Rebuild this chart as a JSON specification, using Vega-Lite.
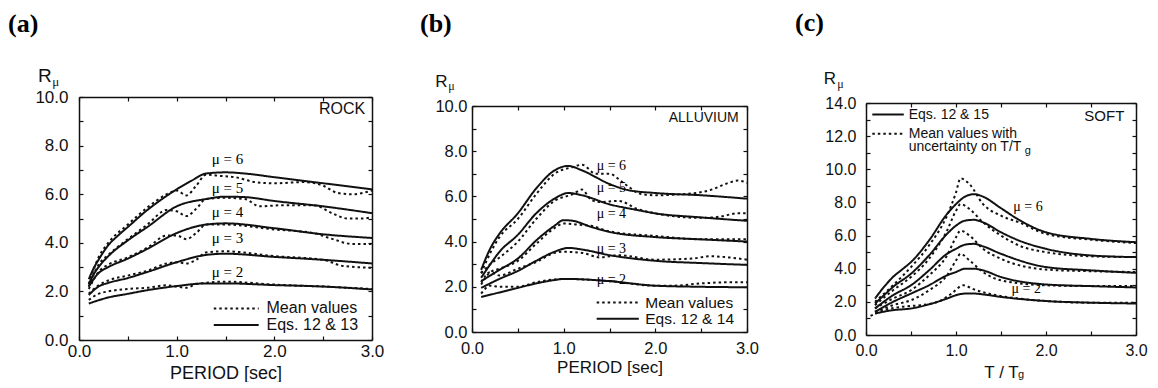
{
"$schema": "https://vega.github.io/schema/vega-lite/v6.json",
"padding": {"left": 8, "top": 10, "right": 0, "bottom": 0},
"spacing": 36,
"config": {
  "font": "Liberation Sans",
  "view": {"stroke": null},
  "title": {"font": "Liberation Serif", "fontSize": 26, "fontWeight": "bold", "anchor": "start", "frame": "group", "color": "#000"},
  "axis": {"grid": false, "labelFont": "Liberation Sans", "titleFont": "Liberation Sans", "titleFontWeight": "normal", "labelColor": "#111", "titleColor": "#111", "tickColor": "#111", "domainColor": "#111", "domainWidth": 1.5, "tickWidth": 1.2, "labelFlush": false, "labelOverlap": false}
},
"datasets": {
"a": [
{"T":0.1,"R":2.5,"mu":6,"type":"eq"},{"T":0.15,"R":2.95,"mu":6,"type":"eq"},{"T":0.2,"R":3.3,"mu":6,"type":"eq"},{"T":0.3,"R":3.9,"mu":6,"type":"eq"},{"T":0.4,"R":4.3,"mu":6,"type":"eq"},{"T":0.5,"R":4.65,"mu":6,"type":"eq"},{"T":0.7,"R":5.35,"mu":6,"type":"eq"},{"T":0.85,"R":5.8,"mu":6,"type":"eq"},{"T":1.0,"R":6.2,"mu":6,"type":"eq"},{"T":1.15,"R":6.55,"mu":6,"type":"eq"},{"T":1.3,"R":6.85,"mu":6,"type":"eq"},{"T":1.5,"R":6.9,"mu":6,"type":"eq"},{"T":1.7,"R":6.85,"mu":6,"type":"eq"},{"T":2.0,"R":6.7,"mu":6,"type":"eq"},{"T":2.5,"R":6.45,"mu":6,"type":"eq"},{"T":3.0,"R":6.2,"mu":6,"type":"eq"},
{"T":0.1,"R":2.3,"mu":5,"type":"eq"},{"T":0.15,"R":2.7,"mu":5,"type":"eq"},{"T":0.2,"R":3.0,"mu":5,"type":"eq"},{"T":0.3,"R":3.45,"mu":5,"type":"eq"},{"T":0.5,"R":4.1,"mu":5,"type":"eq"},{"T":0.7,"R":4.65,"mu":5,"type":"eq"},{"T":1.0,"R":5.5,"mu":5,"type":"eq"},{"T":1.3,"R":5.8,"mu":5,"type":"eq"},{"T":1.5,"R":5.9,"mu":5,"type":"eq"},{"T":1.7,"R":5.88,"mu":5,"type":"eq"},{"T":2.0,"R":5.72,"mu":5,"type":"eq"},{"T":2.5,"R":5.5,"mu":5,"type":"eq"},{"T":3.0,"R":5.22,"mu":5,"type":"eq"},
{"T":0.1,"R":2.2,"mu":4,"type":"eq"},{"T":0.2,"R":2.75,"mu":4,"type":"eq"},{"T":0.3,"R":3.0,"mu":4,"type":"eq"},{"T":0.5,"R":3.35,"mu":4,"type":"eq"},{"T":0.7,"R":3.75,"mu":4,"type":"eq"},{"T":1.0,"R":4.4,"mu":4,"type":"eq"},{"T":1.3,"R":4.75,"mu":4,"type":"eq"},{"T":1.5,"R":4.8,"mu":4,"type":"eq"},{"T":2.0,"R":4.6,"mu":4,"type":"eq"},{"T":2.5,"R":4.35,"mu":4,"type":"eq"},{"T":3.0,"R":4.2,"mu":4,"type":"eq"},
{"T":0.1,"R":1.85,"mu":3,"type":"eq"},{"T":0.2,"R":2.2,"mu":3,"type":"eq"},{"T":0.3,"R":2.35,"mu":3,"type":"eq"},{"T":0.5,"R":2.55,"mu":3,"type":"eq"},{"T":0.7,"R":2.8,"mu":3,"type":"eq"},{"T":1.0,"R":3.2,"mu":3,"type":"eq"},{"T":1.3,"R":3.5,"mu":3,"type":"eq"},{"T":1.5,"R":3.55,"mu":3,"type":"eq"},{"T":2.0,"R":3.42,"mu":3,"type":"eq"},{"T":2.5,"R":3.3,"mu":3,"type":"eq"},{"T":3.0,"R":3.15,"mu":3,"type":"eq"},
{"T":0.1,"R":1.5,"mu":2,"type":"eq"},{"T":0.3,"R":1.75,"mu":2,"type":"eq"},{"T":0.5,"R":1.9,"mu":2,"type":"eq"},{"T":0.7,"R":2.05,"mu":2,"type":"eq"},{"T":1.0,"R":2.22,"mu":2,"type":"eq"},{"T":1.3,"R":2.33,"mu":2,"type":"eq"},{"T":1.5,"R":2.33,"mu":2,"type":"eq"},{"T":2.0,"R":2.26,"mu":2,"type":"eq"},{"T":2.5,"R":2.2,"mu":2,"type":"eq"},{"T":3.0,"R":2.08,"mu":2,"type":"eq"},
{"T":0.1,"R":2.3,"mu":6,"type":"mean"},{"T":0.2,"R":3.4,"mu":6,"type":"mean"},{"T":0.3,"R":4.0,"mu":6,"type":"mean"},{"T":0.5,"R":4.75,"mu":6,"type":"mean"},{"T":0.7,"R":5.45,"mu":6,"type":"mean"},{"T":0.9,"R":6.0,"mu":6,"type":"mean"},{"T":1.0,"R":6.15,"mu":6,"type":"mean"},{"T":1.1,"R":5.95,"mu":6,"type":"mean"},{"T":1.2,"R":6.35,"mu":6,"type":"mean"},{"T":1.3,"R":6.8,"mu":6,"type":"mean"},{"T":1.45,"R":6.75,"mu":6,"type":"mean"},{"T":1.6,"R":6.7,"mu":6,"type":"mean"},{"T":1.8,"R":6.5,"mu":6,"type":"mean"},{"T":2.0,"R":6.45,"mu":6,"type":"mean"},{"T":2.3,"R":6.5,"mu":6,"type":"mean"},{"T":2.5,"R":6.35,"mu":6,"type":"mean"},{"T":2.65,"R":6.05,"mu":6,"type":"mean"},{"T":2.8,"R":6.0,"mu":6,"type":"mean"},{"T":3.0,"R":6.15,"mu":6,"type":"mean"},
{"T":0.1,"R":2.2,"mu":5,"type":"mean"},{"T":0.2,"R":3.1,"mu":5,"type":"mean"},{"T":0.3,"R":3.5,"mu":5,"type":"mean"},{"T":0.5,"R":4.15,"mu":5,"type":"mean"},{"T":0.7,"R":4.75,"mu":5,"type":"mean"},{"T":0.9,"R":5.35,"mu":5,"type":"mean"},{"T":1.0,"R":5.3,"mu":5,"type":"mean"},{"T":1.1,"R":5.1,"mu":5,"type":"mean"},{"T":1.2,"R":5.4,"mu":5,"type":"mean"},{"T":1.3,"R":5.8,"mu":5,"type":"mean"},{"T":1.5,"R":5.85,"mu":5,"type":"mean"},{"T":1.7,"R":5.8,"mu":5,"type":"mean"},{"T":1.85,"R":5.5,"mu":5,"type":"mean"},{"T":2.1,"R":5.55,"mu":5,"type":"mean"},{"T":2.4,"R":5.55,"mu":5,"type":"mean"},{"T":2.6,"R":5.2,"mu":5,"type":"mean"},{"T":2.75,"R":5.0,"mu":5,"type":"mean"},{"T":2.9,"R":5.0,"mu":5,"type":"mean"},{"T":3.0,"R":5.05,"mu":5,"type":"mean"},
{"T":0.1,"R":2.1,"mu":4,"type":"mean"},{"T":0.2,"R":2.8,"mu":4,"type":"mean"},{"T":0.3,"R":3.1,"mu":4,"type":"mean"},{"T":0.5,"R":3.4,"mu":4,"type":"mean"},{"T":0.7,"R":3.8,"mu":4,"type":"mean"},{"T":0.9,"R":4.3,"mu":4,"type":"mean"},{"T":1.0,"R":4.3,"mu":4,"type":"mean"},{"T":1.1,"R":4.15,"mu":4,"type":"mean"},{"T":1.2,"R":4.4,"mu":4,"type":"mean"},{"T":1.3,"R":4.75,"mu":4,"type":"mean"},{"T":1.5,"R":4.75,"mu":4,"type":"mean"},{"T":2.0,"R":4.55,"mu":4,"type":"mean"},{"T":2.4,"R":4.4,"mu":4,"type":"mean"},{"T":2.6,"R":4.15,"mu":4,"type":"mean"},{"T":2.8,"R":3.95,"mu":4,"type":"mean"},{"T":3.0,"R":3.95,"mu":4,"type":"mean"},
{"T":0.1,"R":1.9,"mu":3,"type":"mean"},{"T":0.2,"R":2.25,"mu":3,"type":"mean"},{"T":0.3,"R":2.45,"mu":3,"type":"mean"},{"T":0.5,"R":2.65,"mu":3,"type":"mean"},{"T":0.7,"R":2.85,"mu":3,"type":"mean"},{"T":0.9,"R":3.15,"mu":3,"type":"mean"},{"T":1.0,"R":3.2,"mu":3,"type":"mean"},{"T":1.1,"R":3.15,"mu":3,"type":"mean"},{"T":1.2,"R":3.3,"mu":3,"type":"mean"},{"T":1.3,"R":3.6,"mu":3,"type":"mean"},{"T":1.5,"R":3.65,"mu":3,"type":"mean"},{"T":2.0,"R":3.45,"mu":3,"type":"mean"},{"T":2.5,"R":3.3,"mu":3,"type":"mean"},{"T":2.7,"R":3.05,"mu":3,"type":"mean"},{"T":3.0,"R":2.97,"mu":3,"type":"mean"},
{"T":0.1,"R":1.65,"mu":2,"type":"mean"},{"T":0.2,"R":1.9,"mu":2,"type":"mean"},{"T":0.3,"R":2.0,"mu":2,"type":"mean"},{"T":0.5,"R":2.1,"mu":2,"type":"mean"},{"T":0.7,"R":2.15,"mu":2,"type":"mean"},{"T":0.9,"R":2.25,"mu":2,"type":"mean"},{"T":1.0,"R":2.2,"mu":2,"type":"mean"},{"T":1.1,"R":2.15,"mu":2,"type":"mean"},{"T":1.2,"R":2.3,"mu":2,"type":"mean"},{"T":1.5,"R":2.4,"mu":2,"type":"mean"},{"T":2.0,"R":2.28,"mu":2,"type":"mean"},{"T":2.5,"R":2.2,"mu":2,"type":"mean"},{"T":3.0,"R":2.1,"mu":2,"type":"mean"}
],
"b": [
{"T":0.1,"R":2.75,"mu":6,"type":"eq"},{"T":0.2,"R":3.7,"mu":6,"type":"eq"},{"T":0.3,"R":4.35,"mu":6,"type":"eq"},{"T":0.5,"R":5.25,"mu":6,"type":"eq"},{"T":0.7,"R":6.35,"mu":6,"type":"eq"},{"T":0.9,"R":7.15,"mu":6,"type":"eq"},{"T":1.05,"R":7.35,"mu":6,"type":"eq"},{"T":1.2,"R":7.15,"mu":6,"type":"eq"},{"T":1.5,"R":6.55,"mu":6,"type":"eq"},{"T":1.7,"R":6.28,"mu":6,"type":"eq"},{"T":2.0,"R":6.15,"mu":6,"type":"eq"},{"T":2.5,"R":6.05,"mu":6,"type":"eq"},{"T":3.0,"R":5.9,"mu":6,"type":"eq"},
{"T":0.1,"R":2.4,"mu":5,"type":"eq"},{"T":0.2,"R":3.0,"mu":5,"type":"eq"},{"T":0.3,"R":3.55,"mu":5,"type":"eq"},{"T":0.5,"R":4.3,"mu":5,"type":"eq"},{"T":0.7,"R":5.25,"mu":5,"type":"eq"},{"T":0.9,"R":5.9,"mu":5,"type":"eq"},{"T":1.05,"R":6.15,"mu":5,"type":"eq"},{"T":1.2,"R":6.05,"mu":5,"type":"eq"},{"T":1.5,"R":5.65,"mu":5,"type":"eq"},{"T":1.8,"R":5.4,"mu":5,"type":"eq"},{"T":2.0,"R":5.25,"mu":5,"type":"eq"},{"T":2.5,"R":5.07,"mu":5,"type":"eq"},{"T":3.0,"R":4.92,"mu":5,"type":"eq"},
{"T":0.1,"R":2.25,"mu":4,"type":"eq"},{"T":0.2,"R":2.5,"mu":4,"type":"eq"},{"T":0.3,"R":2.75,"mu":4,"type":"eq"},{"T":0.5,"R":3.25,"mu":4,"type":"eq"},{"T":0.7,"R":4.05,"mu":4,"type":"eq"},{"T":0.9,"R":4.7,"mu":4,"type":"eq"},{"T":1.0,"R":4.95,"mu":4,"type":"eq"},{"T":1.1,"R":4.92,"mu":4,"type":"eq"},{"T":1.3,"R":4.65,"mu":4,"type":"eq"},{"T":1.5,"R":4.43,"mu":4,"type":"eq"},{"T":2.0,"R":4.2,"mu":4,"type":"eq"},{"T":2.5,"R":4.1,"mu":4,"type":"eq"},{"T":3.0,"R":4.0,"mu":4,"type":"eq"},
{"T":0.1,"R":1.95,"mu":3,"type":"eq"},{"T":0.3,"R":2.35,"mu":3,"type":"eq"},{"T":0.5,"R":2.7,"mu":3,"type":"eq"},{"T":0.7,"R":3.15,"mu":3,"type":"eq"},{"T":0.9,"R":3.55,"mu":3,"type":"eq"},{"T":1.05,"R":3.72,"mu":3,"type":"eq"},{"T":1.2,"R":3.65,"mu":3,"type":"eq"},{"T":1.5,"R":3.4,"mu":3,"type":"eq"},{"T":2.0,"R":3.15,"mu":3,"type":"eq"},{"T":2.5,"R":3.05,"mu":3,"type":"eq"},{"T":3.0,"R":2.97,"mu":3,"type":"eq"},
{"T":0.1,"R":1.55,"mu":2,"type":"eq"},{"T":0.3,"R":1.75,"mu":2,"type":"eq"},{"T":0.5,"R":1.95,"mu":2,"type":"eq"},{"T":0.7,"R":2.15,"mu":2,"type":"eq"},{"T":0.9,"R":2.3,"mu":2,"type":"eq"},{"T":1.0,"R":2.35,"mu":2,"type":"eq"},{"T":1.2,"R":2.33,"mu":2,"type":"eq"},{"T":1.5,"R":2.25,"mu":2,"type":"eq"},{"T":2.0,"R":2.05,"mu":2,"type":"eq"},{"T":2.5,"R":2.0,"mu":2,"type":"eq"},{"T":3.0,"R":1.98,"mu":2,"type":"eq"},
{"T":0.1,"R":2.6,"mu":6,"type":"mean"},{"T":0.2,"R":3.5,"mu":6,"type":"mean"},{"T":0.3,"R":4.2,"mu":6,"type":"mean"},{"T":0.5,"R":5.0,"mu":6,"type":"mean"},{"T":0.7,"R":6.1,"mu":6,"type":"mean"},{"T":0.9,"R":7.0,"mu":6,"type":"mean"},{"T":1.1,"R":7.3,"mu":6,"type":"mean"},{"T":1.2,"R":7.4,"mu":6,"type":"mean"},{"T":1.35,"R":7.0,"mu":6,"type":"mean"},{"T":1.5,"R":7.0,"mu":6,"type":"mean"},{"T":1.65,"R":6.6,"mu":6,"type":"mean"},{"T":1.85,"R":6.1,"mu":6,"type":"mean"},{"T":2.0,"R":6.05,"mu":6,"type":"mean"},{"T":2.3,"R":6.1,"mu":6,"type":"mean"},{"T":2.6,"R":6.28,"mu":6,"type":"mean"},{"T":2.8,"R":6.6,"mu":6,"type":"mean"},{"T":2.9,"R":6.7,"mu":6,"type":"mean"},{"T":3.0,"R":6.6,"mu":6,"type":"mean"},
{"T":0.1,"R":2.6,"mu":5,"type":"mean"},{"T":0.2,"R":3.0,"mu":5,"type":"mean"},{"T":0.3,"R":3.3,"mu":5,"type":"mean"},{"T":0.5,"R":4.0,"mu":5,"type":"mean"},{"T":0.7,"R":5.0,"mu":5,"type":"mean"},{"T":0.9,"R":5.8,"mu":5,"type":"mean"},{"T":1.1,"R":6.1,"mu":5,"type":"mean"},{"T":1.2,"R":6.3,"mu":5,"type":"mean"},{"T":1.3,"R":5.85,"mu":5,"type":"mean"},{"T":1.4,"R":5.75,"mu":5,"type":"mean"},{"T":1.6,"R":5.8,"mu":5,"type":"mean"},{"T":1.8,"R":5.45,"mu":5,"type":"mean"},{"T":2.0,"R":5.25,"mu":5,"type":"mean"},{"T":2.5,"R":5.05,"mu":5,"type":"mean"},{"T":2.7,"R":5.1,"mu":5,"type":"mean"},{"T":2.9,"R":5.25,"mu":5,"type":"mean"},{"T":3.0,"R":5.25,"mu":5,"type":"mean"},
{"T":0.1,"R":2.1,"mu":4,"type":"mean"},{"T":0.2,"R":2.65,"mu":4,"type":"mean"},{"T":0.3,"R":2.8,"mu":4,"type":"mean"},{"T":0.5,"R":3.15,"mu":4,"type":"mean"},{"T":0.7,"R":3.9,"mu":4,"type":"mean"},{"T":0.9,"R":4.6,"mu":4,"type":"mean"},{"T":1.0,"R":4.8,"mu":4,"type":"mean"},{"T":1.15,"R":4.75,"mu":4,"type":"mean"},{"T":1.3,"R":4.7,"mu":4,"type":"mean"},{"T":1.5,"R":4.45,"mu":4,"type":"mean"},{"T":2.0,"R":4.25,"mu":4,"type":"mean"},{"T":2.5,"R":4.1,"mu":4,"type":"mean"},{"T":3.0,"R":4.1,"mu":4,"type":"mean"},
{"T":0.1,"R":2.2,"mu":3,"type":"mean"},{"T":0.2,"R":2.65,"mu":3,"type":"mean"},{"T":0.3,"R":2.5,"mu":3,"type":"mean"},{"T":0.5,"R":2.8,"mu":3,"type":"mean"},{"T":0.7,"R":3.1,"mu":3,"type":"mean"},{"T":0.9,"R":3.5,"mu":3,"type":"mean"},{"T":1.0,"R":3.55,"mu":3,"type":"mean"},{"T":1.2,"R":3.5,"mu":3,"type":"mean"},{"T":1.4,"R":3.3,"mu":3,"type":"mean"},{"T":1.6,"R":3.4,"mu":3,"type":"mean"},{"T":2.0,"R":3.2,"mu":3,"type":"mean"},{"T":2.4,"R":3.25,"mu":3,"type":"mean"},{"T":2.6,"R":3.35,"mu":3,"type":"mean"},{"T":2.8,"R":3.3,"mu":3,"type":"mean"},{"T":3.0,"R":3.2,"mu":3,"type":"mean"},
{"T":0.1,"R":1.7,"mu":2,"type":"mean"},{"T":0.2,"R":2.05,"mu":2,"type":"mean"},{"T":0.3,"R":2.0,"mu":2,"type":"mean"},{"T":0.5,"R":2.0,"mu":2,"type":"mean"},{"T":0.7,"R":2.2,"mu":2,"type":"mean"},{"T":1.0,"R":2.35,"mu":2,"type":"mean"},{"T":1.5,"R":2.25,"mu":2,"type":"mean"},{"T":2.0,"R":2.05,"mu":2,"type":"mean"},{"T":2.2,"R":2.05,"mu":2,"type":"mean"},{"T":2.5,"R":2.15,"mu":2,"type":"mean"},{"T":2.8,"R":2.2,"mu":2,"type":"mean"},{"T":3.0,"R":2.2,"mu":2,"type":"mean"}
],
"c": [
{"T":0.1,"R":2.2,"mu":6,"type":"eq"},{"T":0.2,"R":2.9,"mu":6,"type":"eq"},{"T":0.3,"R":3.5,"mu":6,"type":"eq"},{"T":0.4,"R":3.95,"mu":6,"type":"eq"},{"T":0.5,"R":4.4,"mu":6,"type":"eq"},{"T":0.7,"R":5.7,"mu":6,"type":"eq"},{"T":0.9,"R":7.3,"mu":6,"type":"eq"},{"T":1.0,"R":7.9,"mu":6,"type":"eq"},{"T":1.1,"R":8.35,"mu":6,"type":"eq"},{"T":1.2,"R":8.5,"mu":6,"type":"eq"},{"T":1.3,"R":8.35,"mu":6,"type":"eq"},{"T":1.5,"R":7.65,"mu":6,"type":"eq"},{"T":1.7,"R":6.95,"mu":6,"type":"eq"},{"T":2.0,"R":6.2,"mu":6,"type":"eq"},{"T":2.5,"R":5.8,"mu":6,"type":"eq"},{"T":3.0,"R":5.6,"mu":6,"type":"eq"},
{"T":0.1,"R":1.9,"mu":5,"type":"eq"},{"T":0.2,"R":2.4,"mu":5,"type":"eq"},{"T":0.3,"R":2.9,"mu":5,"type":"eq"},{"T":0.5,"R":3.7,"mu":5,"type":"eq"},{"T":0.7,"R":4.8,"mu":5,"type":"eq"},{"T":0.9,"R":6.1,"mu":5,"type":"eq"},{"T":1.0,"R":6.6,"mu":5,"type":"eq"},{"T":1.1,"R":6.9,"mu":5,"type":"eq"},{"T":1.2,"R":6.95,"mu":5,"type":"eq"},{"T":1.3,"R":6.8,"mu":5,"type":"eq"},{"T":1.5,"R":6.2,"mu":5,"type":"eq"},{"T":1.7,"R":5.7,"mu":5,"type":"eq"},{"T":2.0,"R":5.2,"mu":5,"type":"eq"},{"T":2.5,"R":4.8,"mu":5,"type":"eq"},{"T":3.0,"R":4.7,"mu":5,"type":"eq"},
{"T":0.1,"R":1.6,"mu":4,"type":"eq"},{"T":0.3,"R":2.4,"mu":4,"type":"eq"},{"T":0.5,"R":3.0,"mu":4,"type":"eq"},{"T":0.7,"R":3.9,"mu":4,"type":"eq"},{"T":0.9,"R":4.9,"mu":4,"type":"eq"},{"T":1.0,"R":5.2,"mu":4,"type":"eq"},{"T":1.1,"R":5.45,"mu":4,"type":"eq"},{"T":1.2,"R":5.5,"mu":4,"type":"eq"},{"T":1.3,"R":5.35,"mu":4,"type":"eq"},{"T":1.5,"R":4.9,"mu":4,"type":"eq"},{"T":2.0,"R":4.1,"mu":4,"type":"eq"},{"T":2.5,"R":3.9,"mu":4,"type":"eq"},{"T":3.0,"R":3.75,"mu":4,"type":"eq"},
{"T":0.1,"R":1.4,"mu":3,"type":"eq"},{"T":0.3,"R":2.0,"mu":3,"type":"eq"},{"T":0.5,"R":2.5,"mu":3,"type":"eq"},{"T":0.7,"R":3.0,"mu":3,"type":"eq"},{"T":0.9,"R":3.6,"mu":3,"type":"eq"},{"T":1.0,"R":3.8,"mu":3,"type":"eq"},{"T":1.1,"R":4.0,"mu":3,"type":"eq"},{"T":1.2,"R":4.0,"mu":3,"type":"eq"},{"T":1.3,"R":3.9,"mu":3,"type":"eq"},{"T":1.5,"R":3.5,"mu":3,"type":"eq"},{"T":2.0,"R":3.05,"mu":3,"type":"eq"},{"T":2.5,"R":2.95,"mu":3,"type":"eq"},{"T":3.0,"R":2.87,"mu":3,"type":"eq"},
{"T":0.1,"R":1.3,"mu":2,"type":"eq"},{"T":0.3,"R":1.5,"mu":2,"type":"eq"},{"T":0.5,"R":1.6,"mu":2,"type":"eq"},{"T":0.7,"R":1.85,"mu":2,"type":"eq"},{"T":0.9,"R":2.2,"mu":2,"type":"eq"},{"T":1.0,"R":2.4,"mu":2,"type":"eq"},{"T":1.1,"R":2.5,"mu":2,"type":"eq"},{"T":1.2,"R":2.5,"mu":2,"type":"eq"},{"T":1.3,"R":2.45,"mu":2,"type":"eq"},{"T":1.5,"R":2.3,"mu":2,"type":"eq"},{"T":2.0,"R":2.05,"mu":2,"type":"eq"},{"T":2.5,"R":1.95,"mu":2,"type":"eq"},{"T":3.0,"R":1.9,"mu":2,"type":"eq"},
{"T":0.1,"R":2.0,"mu":6,"type":"mean"},{"T":0.3,"R":3.0,"mu":6,"type":"mean"},{"T":0.5,"R":4.1,"mu":6,"type":"mean"},{"T":0.7,"R":5.4,"mu":6,"type":"mean"},{"T":0.9,"R":7.2,"mu":6,"type":"mean"},{"T":1.0,"R":8.6,"mu":6,"type":"mean"},{"T":1.05,"R":9.45,"mu":6,"type":"mean"},{"T":1.15,"R":9.1,"mu":6,"type":"mean"},{"T":1.3,"R":7.9,"mu":6,"type":"mean"},{"T":1.5,"R":7.2,"mu":6,"type":"mean"},{"T":1.7,"R":6.8,"mu":6,"type":"mean"},{"T":2.0,"R":6.1,"mu":6,"type":"mean"},{"T":2.5,"R":5.75,"mu":6,"type":"mean"},{"T":3.0,"R":5.55,"mu":6,"type":"mean"},
{"T":0.1,"R":1.8,"mu":5,"type":"mean"},{"T":0.3,"R":2.7,"mu":5,"type":"mean"},{"T":0.5,"R":3.5,"mu":5,"type":"mean"},{"T":0.7,"R":4.6,"mu":5,"type":"mean"},{"T":0.9,"R":6.3,"mu":5,"type":"mean"},{"T":1.0,"R":7.5,"mu":5,"type":"mean"},{"T":1.05,"R":7.9,"mu":5,"type":"mean"},{"T":1.15,"R":7.6,"mu":5,"type":"mean"},{"T":1.3,"R":6.8,"mu":5,"type":"mean"},{"T":1.5,"R":6.0,"mu":5,"type":"mean"},{"T":1.7,"R":5.4,"mu":5,"type":"mean"},{"T":2.0,"R":5.0,"mu":5,"type":"mean"},{"T":2.5,"R":4.75,"mu":5,"type":"mean"},{"T":3.0,"R":4.7,"mu":5,"type":"mean"},
{"T":0.1,"R":1.6,"mu":4,"type":"mean"},{"T":0.3,"R":2.2,"mu":4,"type":"mean"},{"T":0.5,"R":2.7,"mu":4,"type":"mean"},{"T":0.7,"R":3.6,"mu":4,"type":"mean"},{"T":0.9,"R":4.8,"mu":4,"type":"mean"},{"T":1.0,"R":5.9,"mu":4,"type":"mean"},{"T":1.05,"R":6.3,"mu":4,"type":"mean"},{"T":1.15,"R":6.0,"mu":4,"type":"mean"},{"T":1.3,"R":5.2,"mu":4,"type":"mean"},{"T":1.5,"R":4.6,"mu":4,"type":"mean"},{"T":2.0,"R":3.95,"mu":4,"type":"mean"},{"T":2.5,"R":3.85,"mu":4,"type":"mean"},{"T":3.0,"R":3.8,"mu":4,"type":"mean"},
{"T":0.1,"R":1.4,"mu":3,"type":"mean"},{"T":0.3,"R":1.8,"mu":3,"type":"mean"},{"T":0.5,"R":2.1,"mu":3,"type":"mean"},{"T":0.7,"R":2.7,"mu":3,"type":"mean"},{"T":0.9,"R":3.6,"mu":3,"type":"mean"},{"T":1.0,"R":4.5,"mu":3,"type":"mean"},{"T":1.05,"R":4.9,"mu":3,"type":"mean"},{"T":1.15,"R":4.5,"mu":3,"type":"mean"},{"T":1.3,"R":3.8,"mu":3,"type":"mean"},{"T":1.5,"R":3.3,"mu":3,"type":"mean"},{"T":2.0,"R":3.0,"mu":3,"type":"mean"},{"T":2.5,"R":2.95,"mu":3,"type":"mean"},{"T":3.0,"R":2.95,"mu":3,"type":"mean"},
{"T":0.05,"R":1.15,"mu":2,"type":"mean"},{"T":0.2,"R":1.5,"mu":2,"type":"mean"},{"T":0.4,"R":1.7,"mu":2,"type":"mean"},{"T":0.6,"R":1.8,"mu":2,"type":"mean"},{"T":0.8,"R":2.0,"mu":2,"type":"mean"},{"T":0.95,"R":2.5,"mu":2,"type":"mean"},{"T":1.08,"R":3.0,"mu":2,"type":"mean"},{"T":1.2,"R":2.75,"mu":2,"type":"mean"},{"T":1.4,"R":2.45,"mu":2,"type":"mean"},{"T":1.7,"R":2.2,"mu":2,"type":"mean"},{"T":2.0,"R":2.05,"mu":2,"type":"mean"},{"T":2.5,"R":1.95,"mu":2,"type":"mean"},{"T":3.0,"R":1.95,"mu":2,"type":"mean"}
]
},
"hconcat": [
{
  "width": 293, "height": 243,
  "title": {"text": "(a)", "dx": -71, "offset": 29.5},
  "resolve": {"axis": {"x": "independent", "y": "independent"}},
  "layer": [
    {"data": {"name": "a"},
     "mark": {"type": "line", "interpolate": "monotone", "strokeWidth": 2, "color": "#111"},
     "encoding": {
       "x": {"field": "T", "type": "quantitative", "scale": {"domain": [0, 3], "nice": false, "zero": false},
             "axis": {"values": [0, 0.5, 1, 1.5, 2, 2.5, 3], "labelExpr": "datum.value % 1 == 0 ? format(datum.value, '.1f') : ''", "tickSize": -4, "labelPadding": 7, "labelFontSize": 17, "title": "PERIOD [sec]", "titleFontSize": 18, "titlePadding": 5}},
       "y": {"field": "R", "type": "quantitative", "scale": {"domain": [0, 10], "nice": false, "range": [243, 0]},
             "axis": {"values": [0,1,2,3,4,5,6,7,8,9,10], "labelExpr": "datum.value % 2 == 0 ? format(datum.value, '.1f') : ''", "tickSize": -4, "labelPadding": 15, "labelFontSize": 17, "title": null}},
       "strokeDash": {"field": "type", "type": "nominal", "scale": {"domain": ["mean", "eq"], "range": [[2.5, 3], [1, 0]]}, "legend": null},
       "detail": {"field": "mu"}
     }},
    {"data": {"values": [{"T1": 1.38, "T2": 1.84, "R": 1.3, "type": "mean"}, {"T1": 1.38, "T2": 1.84, "R": 0.62, "type": "eq"}]},
     "mark": {"type": "rule", "strokeWidth": 2, "color": "#111"},
     "encoding": {
       "x": {"field": "T1", "type": "quantitative", "scale": {"domain": [0, 3]}, "axis": null},
       "x2": {"field": "T2"},
       "y": {"field": "R", "type": "quantitative", "scale": {"domain": [0, 10]}, "axis": null},
       "strokeDash": {"field": "type", "type": "nominal", "scale": {"domain": ["mean", "eq"], "range": [[2.5, 3], [1, 0]]}, "legend": null}
     }},
    {"data": {"values": [{"T": 1.92, "R": 1.3, "label": "Mean values"}, {"T": 1.92, "R": 0.62, "label": "Eqs. 12 & 13"}]},
     "mark": {"type": "text", "align": "left", "baseline": "middle", "fontSize": 16, "color": "#111"},
     "encoding": {"x": {"field": "T", "type": "quantitative", "scale": {"domain": [0, 3]}, "axis": null}, "y": {"field": "R", "type": "quantitative", "scale": {"domain": [0, 10]}, "axis": null}, "text": {"field": "label"}}},
    {"data": {"values": [{"T": 1.52, "R": 7.45, "label": "μ = 6"}, {"T": 1.52, "R": 6.25, "label": "μ = 5"}, {"T": 1.52, "R": 5.27, "label": "μ = 4"}, {"T": 1.52, "R": 4.18, "label": "μ = 3"}, {"T": 1.52, "R": 2.8, "label": "μ = 2"}]},
     "mark": {"type": "text", "align": "center", "baseline": "middle", "font": "Liberation Serif", "fontSize": 15, "color": "#000"},
     "encoding": {
       "x": {"field": "T", "type": "quantitative", "scale": {"domain": [0, 3]}, "axis": {"orient": "top", "values": [0, 0.5, 1, 1.5, 2, 2.5, 3], "labels": false, "domain": true, "tickSize": -4, "title": null}},
       "y": {"field": "R", "type": "quantitative", "scale": {"domain": [0, 10]}, "axis": {"orient": "right", "values": [0,1,2,3,4,5,6,7,8,9,10], "labels": false, "domain": true, "tickSize": -4, "title": null}},
       "text": {"field": "label"}}},
    {"data": {"values": [{"T": 2.93, "R": 9.5, "label": "ROCK"}]},
     "mark": {"type": "text", "align": "right", "baseline": "middle", "fontSize": 16, "color": "#111"},
     "encoding": {"x": {"field": "T", "type": "quantitative", "scale": {"domain": [0, 3]}, "axis": null}, "y": {"field": "R", "type": "quantitative", "scale": {"domain": [0, 10]}, "axis": null}, "text": {"field": "label"}}},
    {"data": {"values": [{"T": -0.42, "R": 10.62, "label": "R"}]},
     "mark": {"type": "text", "align": "left", "baseline": "alphabetic", "fontSize": 19, "color": "#111"},
     "encoding": {"x": {"field": "T", "type": "quantitative", "scale": {"domain": [0, 3]}, "axis": null}, "y": {"field": "R", "type": "quantitative", "scale": {"domain": [0, 10]}, "axis": null}, "text": {"field": "label"}}},
    {"data": {"values": [{"T": -0.275, "R": 10.45, "label": "μ"}]},
     "mark": {"type": "text", "align": "left", "baseline": "alphabetic", "font": "Liberation Serif", "fontSize": 13, "color": "#111"},
     "encoding": {"x": {"field": "T", "type": "quantitative", "scale": {"domain": [0, 3]}, "axis": null}, "y": {"field": "R", "type": "quantitative", "scale": {"domain": [0, 10]}, "axis": null}, "text": {"field": "label"}}}
  ]
},
{
  "width": 275, "height": 235,
  "title": {"text": "(b)", "dx": -52, "offset": 36.5},
  "resolve": {"axis": {"x": "independent", "y": "independent"}},
  "layer": [
    {"data": {"name": "b"},
     "mark": {"type": "line", "interpolate": "monotone", "strokeWidth": 2, "color": "#111"},
     "encoding": {
       "x": {"field": "T", "type": "quantitative", "scale": {"domain": [0, 3], "nice": false, "zero": false},
             "axis": {"values": [0, 0.5, 1, 1.5, 2, 2.5, 3], "labelExpr": "datum.value % 1 == 0 ? format(datum.value, '.1f') : ''", "tickSize": -4, "labelPadding": 12, "labelFontSize": 16.5, "title": "PERIOD [sec]", "titleFontSize": 17, "titlePadding": 3}},
       "y": {"field": "R", "type": "quantitative", "scale": {"domain": [0, 10], "nice": false, "range": [235, 9]},
             "axis": {"values": [0,1,2,3,4,5,6,7,8,9,10], "labelExpr": "datum.value % 2 == 0 ? format(datum.value, '.1f') : ''", "tickSize": -4, "labelPadding": 9, "labelFontSize": 16.5, "title": null}},
       "strokeDash": {"field": "type", "type": "nominal", "scale": {"domain": ["mean", "eq"], "range": [[2.5, 3], [1, 0]]}, "legend": null},
       "detail": {"field": "mu"}
     }},
    {"data": {"values": [{"T1": 1.36, "T2": 1.82, "R": 1.3, "type": "mean"}, {"T1": 1.36, "T2": 1.82, "R": 0.59, "type": "eq"}]},
     "mark": {"type": "rule", "strokeWidth": 2, "color": "#111"},
     "encoding": {
       "x": {"field": "T1", "type": "quantitative", "scale": {"domain": [0, 3]}, "axis": null},
       "x2": {"field": "T2"},
       "y": {"field": "R", "type": "quantitative", "scale": {"domain": [0, 10]}, "axis": null},
       "strokeDash": {"field": "type", "type": "nominal", "scale": {"domain": ["mean", "eq"], "range": [[2.5, 3], [1, 0]]}, "legend": null}
     }},
    {"data": {"values": [{"T": 1.89, "R": 1.3, "label": "Mean values"}, {"T": 1.89, "R": 0.59, "label": "Eqs. 12 & 14"}]},
     "mark": {"type": "text", "align": "left", "baseline": "middle", "fontSize": 15.5, "color": "#111"},
     "encoding": {"x": {"field": "T", "type": "quantitative", "scale": {"domain": [0, 3]}, "axis": null}, "y": {"field": "R", "type": "quantitative", "scale": {"domain": [0, 10]}, "axis": null}, "text": {"field": "label"}}},
    {"data": {"values": [{"T": 1.52, "R": 7.36, "label": "μ = 6"}, {"T": 1.52, "R": 6.35, "label": "μ = 5"}, {"T": 1.52, "R": 5.24, "label": "μ = 4"}, {"T": 1.52, "R": 3.69, "label": "μ = 3"}, {"T": 1.52, "R": 2.29, "label": "μ = 2"}]},
     "mark": {"type": "text", "align": "center", "baseline": "middle", "font": "Liberation Serif", "fontSize": 14, "color": "#000"},
     "encoding": {
       "x": {"field": "T", "type": "quantitative", "scale": {"domain": [0, 3]}, "axis": {"orient": "top", "offset": -9, "values": [0, 0.5, 1, 1.5, 2, 2.5, 3], "labels": false, "domain": true, "tickSize": -4, "title": null}},
       "y": {"field": "R", "type": "quantitative", "scale": {"domain": [0, 10]}, "axis": {"orient": "right", "values": [0,1,2,3,4,5,6,7,8,9,10], "labels": false, "domain": true, "tickSize": -4, "title": null}},
       "text": {"field": "label"}}},
    {"data": {"values": [{"T": 2.91, "R": 9.45, "label": "ALLUVIUM"}]},
     "mark": {"type": "text", "align": "right", "baseline": "middle", "fontSize": 14, "color": "#111"},
     "encoding": {"x": {"field": "T", "type": "quantitative", "scale": {"domain": [0, 3]}, "axis": null}, "y": {"field": "R", "type": "quantitative", "scale": {"domain": [0, 10]}, "axis": null}, "text": {"field": "label"}}},
    {"data": {"values": [{"T": -0.40, "R": 10.84, "label": "R"}]},
     "mark": {"type": "text", "align": "left", "baseline": "alphabetic", "fontSize": 17, "color": "#111"},
     "encoding": {"x": {"field": "T", "type": "quantitative", "scale": {"domain": [0, 3]}, "axis": null}, "y": {"field": "R", "type": "quantitative", "scale": {"domain": [0, 10]}, "axis": null}, "text": {"field": "label"}}},
    {"data": {"values": [{"T": -0.26, "R": 10.7, "label": "μ"}]},
     "mark": {"type": "text", "align": "left", "baseline": "alphabetic", "font": "Liberation Serif", "fontSize": 12, "color": "#111"},
     "encoding": {"x": {"field": "T", "type": "quantitative", "scale": {"domain": [0, 3]}, "axis": null}, "y": {"field": "R", "type": "quantitative", "scale": {"domain": [0, 10]}, "axis": null}, "text": {"field": "label"}}}
  ]
},
{
  "width": 270, "height": 238,
  "title": {"text": "(c)", "dx": -71, "offset": 33.5},
  "resolve": {"axis": {"x": "independent", "y": "independent"}},
  "layer": [
    {"data": {"name": "c"},
     "mark": {"type": "line", "interpolate": "monotone", "strokeWidth": 2, "color": "#111"},
     "encoding": {
       "x": {"field": "T", "type": "quantitative", "scale": {"domain": [0, 3], "nice": false, "zero": false},
             "axis": {"values": [0, 0.5, 1, 1.5, 2, 2.5, 3], "labelExpr": "datum.value % 1 == 0 ? format(datum.value, '.1f') : ''", "tickSize": -4, "labelPadding": 11, "labelFontSize": 16, "title": "T / T", "titleFontSize": 17, "titlePadding": 6}},
       "y": {"field": "R", "type": "quantitative", "scale": {"domain": [0, 14], "nice": false, "range": [238, 6]},
             "axis": {"values": [0,1,2,3,4,5,6,7,8,9,10,11,12,13,14], "labelExpr": "datum.value % 2 == 0 ? format(datum.value, '.1f') : ''", "tickSize": -4, "labelPadding": 14, "labelFontSize": 16, "title": null}},
       "strokeDash": {"field": "type", "type": "nominal", "scale": {"domain": ["mean", "eq"], "range": [[2.5, 3], [1, 0]]}, "legend": null},
       "detail": {"field": "mu"}
     }},
    {"data": {"values": [{"T1": 0.07, "T2": 0.42, "R": 13.3, "type": "eq"}, {"T1": 0.07, "T2": 0.42, "R": 12.15, "type": "mean"}]},
     "mark": {"type": "rule", "strokeWidth": 2, "color": "#111"},
     "encoding": {
       "x": {"field": "T1", "type": "quantitative", "scale": {"domain": [0, 3]}, "axis": null},
       "x2": {"field": "T2"},
       "y": {"field": "R", "type": "quantitative", "scale": {"domain": [0, 14]}, "axis": null},
       "strokeDash": {"field": "type", "type": "nominal", "scale": {"domain": ["mean", "eq"], "range": [[2.5, 3], [1, 0]]}, "legend": null}
     }},
    {"data": {"values": [{"T": 0.475, "R": 13.3, "label": "Eqs. 12 & 15"}, {"T": 0.475, "R": 12.15, "label": "Mean values with"}, {"T": 0.475, "R": 11.35, "label": "uncertainty on T/T"}]},
     "mark": {"type": "text", "align": "left", "baseline": "middle", "fontSize": 14, "color": "#111"},
     "encoding": {"x": {"field": "T", "type": "quantitative", "scale": {"domain": [0, 3]}, "axis": null}, "y": {"field": "R", "type": "quantitative", "scale": {"domain": [0, 14]}, "axis": null}, "text": {"field": "label"}}},
    {"data": {"values": [{"T": 1.765, "R": 10.95, "label": "g"}, {"T": 1.69, "R": -2.6, "label": "g"}]},
     "mark": {"type": "text", "align": "left", "baseline": "alphabetic", "fontSize": 11, "color": "#111"},
     "encoding": {"x": {"field": "T", "type": "quantitative", "scale": {"domain": [0, 3]}, "axis": null}, "y": {"field": "R", "type": "quantitative", "scale": {"domain": [0, 14]}, "axis": null}, "text": {"field": "label"}}},
    {"data": {"values": [{"T": 1.8, "R": 7.7, "label": "μ = 6"}, {"T": 1.78, "R": 2.75, "label": "μ = 2"}]},
     "mark": {"type": "text", "align": "center", "baseline": "middle", "font": "Liberation Serif", "fontSize": 14, "color": "#000"},
     "encoding": {
       "x": {"field": "T", "type": "quantitative", "scale": {"domain": [0, 3]}, "axis": {"orient": "top", "offset": -6, "values": [0, 0.5, 1, 1.5, 2, 2.5, 3], "labels": false, "domain": true, "tickSize": -4, "title": null}},
       "y": {"field": "R", "type": "quantitative", "scale": {"domain": [0, 14]}, "axis": {"orient": "right", "values": [0,1,2,3,4,5,6,7,8,9,10,11,12,13,14], "labels": false, "domain": true, "tickSize": -4, "title": null}},
       "text": {"field": "label"}}},
    {"data": {"values": [{"T": 2.87, "R": 13.2, "label": "SOFT"}]},
     "mark": {"type": "text", "align": "right", "baseline": "middle", "fontSize": 15, "color": "#111"},
     "encoding": {"x": {"field": "T", "type": "quantitative", "scale": {"domain": [0, 3]}, "axis": null}, "y": {"field": "R", "type": "quantitative", "scale": {"domain": [0, 14]}, "axis": null}, "text": {"field": "label"}}},
    {"data": {"values": [{"T": -0.47, "R": 15.15, "label": "R"}]},
     "mark": {"type": "text", "align": "left", "baseline": "alphabetic", "fontSize": 17, "color": "#111"},
     "encoding": {"x": {"field": "T", "type": "quantitative", "scale": {"domain": [0, 3]}, "axis": null}, "y": {"field": "R", "type": "quantitative", "scale": {"domain": [0, 14]}, "axis": null}, "text": {"field": "label"}}},
    {"data": {"values": [{"T": -0.32, "R": 14.9, "label": "μ"}]},
     "mark": {"type": "text", "align": "left", "baseline": "alphabetic", "font": "Liberation Serif", "fontSize": 12, "color": "#111"},
     "encoding": {"x": {"field": "T", "type": "quantitative", "scale": {"domain": [0, 3]}, "axis": null}, "y": {"field": "R", "type": "quantitative", "scale": {"domain": [0, 14]}, "axis": null}, "text": {"field": "label"}}}
  ]
}
]
}
